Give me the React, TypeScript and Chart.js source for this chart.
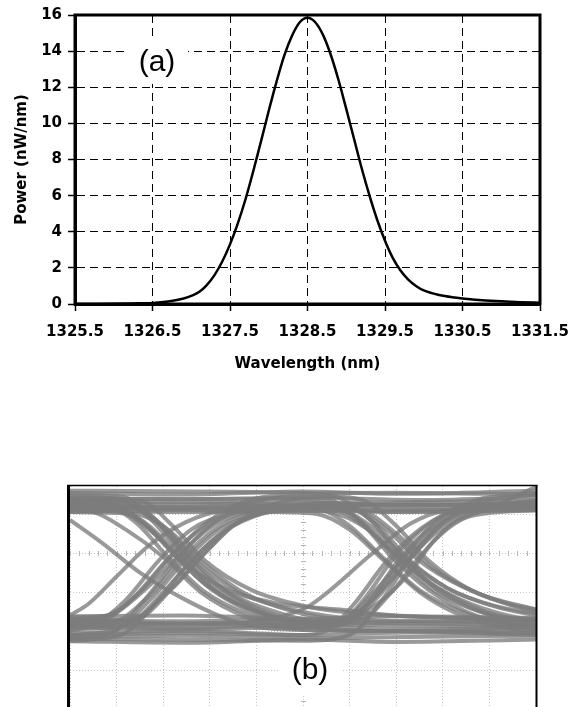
import React, { useEffect, useRef } from "react";
import { Chart, registerables } from "chart.js";
Chart.register(...registerables);

// ---------- Panel (a): spectrum ----------
const wavelengths = [
  1325.5, 1325.75, 1326.0, 1326.25, 1326.5, 1326.7, 1326.9, 1327.0, 1327.1, 1327.2,
  1327.3, 1327.4, 1327.5, 1327.6, 1327.7, 1327.8, 1327.9, 1328.0, 1328.1, 1328.2,
  1328.3, 1328.4, 1328.5, 1328.6, 1328.7, 1328.8, 1328.9, 1329.0, 1329.1, 1329.2,
  1329.3, 1329.4, 1329.5, 1329.6, 1329.7, 1329.8, 1329.9, 1330.0, 1330.2, 1330.4,
  1330.6, 1330.8, 1331.0, 1331.25, 1331.5,
];
const power = [
  0.0, 0.0, 0.01, 0.03, 0.06, 0.14, 0.3, 0.45, 0.66, 1.05,
  1.6, 2.35, 3.3, 4.45, 5.8, 7.35, 9.0, 10.7, 12.3, 13.75,
  14.85, 15.6, 15.85, 15.6, 14.9, 13.8, 12.4, 10.8, 9.15, 7.5,
  6.0, 4.65, 3.5, 2.55, 1.85, 1.35, 1.0, 0.75, 0.5, 0.36,
  0.26, 0.2, 0.15, 0.1, 0.07,
];
const xTickValues = [1325.5, 1326.5, 1327.5, 1328.5, 1329.5, 1330.5, 1331.5];
const yTickValues = [0, 2, 4, 6, 8, 10, 12, 14, 16];

// ---------- Panel (b): eye diagram traces, [time div, level div] ----------
const tr01 = [[0, 1.3], [2.4, 1.25], [5, 1.3], [7.1, 1.22], [10, 1.3]];
const tr02 = [[0, 1.1], [2.5, 1.05], [5, 1.08], [7.2, 1.06], [10, 1.12]];
const tr03 = [[0, 1.4], [2.2, 1.38], [5, 1.42], [7.5, 1.36], [10, 1.44]];
const tr04 = [[0, -1.62], [2.4, -1.6], [5, -1.68], [7.1, -1.62], [10, -1.66]];
const tr05 = [[0, -2.05], [2.6, -2.0], [5, -2.1], [7.3, -2.04], [10, -2.1]];
const tr06 = [[0, -2.26], [2.5, -2.3], [5, -2.22], [7, -2.28], [10, -2.22]];
const tr07 = [[0, -1.88], [2.4, -1.92], [5, -1.85], [7.1, -1.95], [10, -1.9]];
const tr08 = [[0, 1.2], [0.9, 1.15], [1.6, 0.75], [2.3, -0.1], [3.0, -0.9], [3.9, -1.5], [5.0, -1.8], [7, -1.85], [10, -1.9]];
const tr09 = [[0, 1.1], [0.5, 1.05], [1.2, 0.6], [2.0, -0.1], [2.8, -1.0], [3.8, -1.65], [4.8, -1.95], [7, -2.0], [10, -2.05]];
const tr10 = [[0, 1.25], [1.3, 1.2], [2.0, 0.7], [2.7, -0.2], [3.6, -1.0], [4.6, -1.4], [5.8, -1.65], [7.5, -1.75], [10, -1.7]];
const tr11 = [[0, 1.15], [1.1, 1.05], [1.8, 0.5], [2.5, -0.3], [3.4, -0.95], [4.5, -1.3], [5.8, -1.45], [7, -1.6], [10, -1.7]];
const tr12 = [[0, 1.2], [1.0, 1.15], [1.7, 0.7], [2.4, -0.15], [3.2, -0.95], [4.2, -1.55], [5.3, -1.8], [6.0, -1.6], [6.6, -0.9], [7.2, -0.1], [7.9, 0.7], [8.6, 1.1], [10, 1.2]];
const tr13 = [[0, 1.3], [0.7, 1.25], [1.4, 0.8], [2.1, -0.1], [2.9, -1.0], [3.9, -1.6], [5.0, -1.9], [5.7, -1.85], [6.3, -1.2], [6.9, -0.2], [7.6, 0.65], [8.3, 1.1], [10, 1.3]];
const tr14 = [[0, 1.05], [1.4, 1.0], [2.1, 0.6], [2.8, -0.2], [3.7, -1.0], [4.8, -1.5], [5.9, -1.7], [6.6, -1.3], [7.3, -0.5], [7.8, 0.3], [8.6, 0.95], [10, 1.1]];
const tr15 = [[0, -1.9], [0.9, -1.8], [1.7, -1.1], [2.4, -0.15], [3.1, 0.6], [3.9, 1.05], [4.8, 1.2], [7, 1.25], [10, 1.2]];
const tr16 = [[0, -2.0], [0.5, -1.85], [1.2, -1.2], [1.9, -0.2], [2.6, 0.6], [3.4, 1.0], [4.3, 1.15], [7, 1.1], [10, 1.15]];
const tr17 = [[0, -1.75], [1.3, -1.7], [2.1, -1.0], [2.8, -0.1], [3.5, 0.7], [4.3, 1.1], [5.0, 1.25], [7, 1.3], [10, 1.35]];
const tr18 = [[0, -2.1], [1.0, -1.95], [1.8, -1.1], [2.5, -0.15], [3.2, 0.6], [4.0, 1.0], [5.0, 1.1], [5.6, 1.05], [6.4, 0.6], [7.1, -0.15], [7.9, -0.9], [8.9, -1.5], [10, -1.8]];
const tr19 = [[0, -1.85], [0.7, -1.75], [1.4, -1.1], [2.1, -0.15], [2.8, 0.6], [3.6, 1.05], [4.6, 1.2], [5.3, 1.15], [6.0, 0.7], [6.7, -0.1], [7.5, -0.95], [8.5, -1.55], [9.6, -1.85], [10, -1.9]];
const tr20 = [[0, -1.95], [1.2, -1.85], [2.0, -1.0], [2.6, -0.2], [3.4, 0.65], [4.2, 1.05], [5.2, 1.2], [6.0, 1.15], [6.8, 0.6], [7.5, -0.2], [8.4, -0.85], [9.4, -1.3], [10, -1.45]];
const tr21 = [[0, 1.2], [2.4, 1.15], [4.5, 1.2], [5.6, 1.15], [6.3, 0.7], [7.0, -0.1], [7.8, -0.95], [8.8, -1.5], [10, -1.75]];
const tr22 = [[0, 1.3], [2.4, 1.3], [4.8, 1.25], [5.9, 1.2], [6.6, 0.7], [7.3, -0.2], [8.1, -0.9], [9.1, -1.35], [10, -1.55]];
const tr23 = [[0, 1.05], [2.4, 1.1], [4.5, 1.05], [5.3, 1.0], [6.0, 0.6], [6.7, -0.15], [7.5, -1.0], [8.4, -1.6], [9.5, -1.95], [10, -2.0]];
const tr24 = [[0, -1.9], [2.4, -1.95], [5, -1.9], [5.8, -1.85], [6.5, -1.1], [7.1, -0.1], [7.8, 0.7], [8.5, 1.1], [10, 1.25]];
const tr25 = [[0, -2.1], [2.4, -2.05], [5, -2.1], [5.5, -2.0], [6.1, -1.3], [6.8, -0.2], [7.5, 0.6], [8.2, 1.05], [10, 1.2]];
const tr26 = [[0, -1.7], [2.4, -1.75], [5, -1.7], [6.2, -1.7], [6.9, -1.0], [7.5, -0.1], [8.2, 0.75], [9.0, 1.15], [10, 1.7]];
const tr27 = [[0, 1.35], [1.2, 1.3], [1.9, 0.75], [2.6, -0.15], [3.4, -1.0], [4.4, -1.5], [5.4, -1.75], [6.2, -1.5], [6.8, -0.8], [7.4, 0.0], [8.0, 0.75], [8.8, 1.15], [10, 1.35]];
const tr28 = [[0, -1.65], [0.8, -1.6], [1.6, -0.95], [2.3, -0.1], [3.0, 0.65], [3.8, 1.05], [4.8, 1.15], [5.8, 1.1], [6.5, 0.65], [7.2, -0.15], [8.1, -0.9], [9.2, -1.4], [10, -1.6]];
const tr29 = [[0, 0.85], [0.7, 0.25], [1.5, -0.5], [2.4, -1.15], [3.4, -1.7], [4.4, -1.95], [7, -2.0], [10, -2.05]];
const tr30 = [[0, -1.6], [0.4, -1.3], [1.0, -0.6], [1.7, 0.2], [2.5, 0.8], [3.3, 1.1], [5, 1.2], [10, 1.25]];
const tr31 = [[0, -1.85], [3.5, -1.8], [4.6, -1.6], [5.1, -1.38], [6.5, 0.0], [7.3, 0.75], [8.1, 1.1], [10, 1.2]];
const tr32 = [[0, 1.15], [5, 1.15], [6.2, 1.1], [7.0, 0.5], [7.8, -0.4], [8.8, -1.05], [10, -1.45]];
const tr33 = [[0, 1.35], [0.8, 1.3], [1.5, 0.85], [2.2, 0.0], [2.9, -0.8], [3.8, -1.4], [4.9, -1.75], [7, -1.8], [10, -1.85]];
const tr34 = [[0, -2.25], [1.1, -2.1], [1.9, -1.2], [2.6, -0.2], [3.3, 0.55], [4.1, 1.0], [5.0, 1.15], [7, 1.05], [10, 1.1]];
const tr35 = [[0, -2.2], [5.0, -2.25], [6.0, -2.1], [6.7, -1.2], [7.3, -0.15], [8.0, 0.65], [8.8, 1.1], [10, 1.3]];
const tr36 = [[0, 1.4], [4.5, 1.38], [5.5, 1.3], [6.2, 0.85], [6.9, 0.05], [7.7, -0.75], [8.6, -1.3], [9.6, -1.65], [10, -1.7]];
const tr37 = [[0, 1.55], [2.4, 1.5], [5, 1.58], [7.1, 1.52], [10, 1.6]];
const tr38 = [[0, 1.2], [2.5, 1.18], [5, 1.22], [7.3, 1.15], [10, 1.22]];
const tr39 = [[0, -1.75], [2.4, -1.8], [5, -1.78], [7.1, -1.75], [10, -1.8]];
const tr40 = [[0, -2.15], [2.5, -2.12], [5, -2.18], [7.2, -2.15], [10, -2.12]];
const tr41 = [[0, 1.5], [1.1, 1.45], [1.8, 0.9], [2.5, -0.1], [3.3, -0.95], [4.3, -1.55], [5.4, -1.85], [6.1, -1.7], [6.7, -1.0], [7.3, -0.1], [8.0, 0.8], [8.8, 1.3], [10, 1.5]];
const tr42 = [[0, -2.2], [0.9, -2.05], [1.6, -1.2], [2.3, -0.15], [3.0, 0.7], [3.8, 1.25], [4.8, 1.45], [5.5, 1.4], [6.2, 0.85], [6.9, -0.1], [7.7, -0.95], [8.7, -1.6], [10, -1.95]];
const tr43 = [[0, 1.45], [1.0, 1.4], [1.7, 0.9], [2.4, -0.05], [3.1, -0.95], [4.1, -1.55], [5.2, -1.9], [7, -2.0], [10, -1.95]];
const tr44 = [[0, -1.7], [0.8, -1.6], [1.5, -1.0], [2.2, -0.05], [2.9, 0.75], [3.7, 1.3], [4.7, 1.5], [7, 1.55], [10, 1.5]];
const tr45 = [[0, 1.6], [4.8, 1.55], [5.7, 1.45], [6.4, 0.9], [7.1, -0.05], [7.9, -0.95], [8.9, -1.55], [10, -1.85]];
const tr46 = [[0, -1.8], [5.0, -1.85], [5.9, -1.75], [6.6, -1.05], [7.2, -0.05], [7.9, 0.85], [8.7, 1.35], [10, 1.55]];
const tr47 = [[0, 1.4], [1.5, 1.35], [2.2, 0.7], [2.9, -0.2], [3.9, -0.95], [5.0, -1.35], [6.2, -1.55], [8, -1.65], [10, -1.7]];
const tr48 = [[0, -1.75], [1.4, -1.7], [2.2, -0.9], [2.9, 0.0], [3.6, 0.8], [4.5, 1.3], [5.6, 1.45], [6.3, 1.35], [7.0, 0.7], [7.7, -0.2], [8.6, -0.95], [9.5, -1.35], [10, -1.5]];

const eyeTraces = [
  tr01, tr02, tr03, tr04, tr05, tr06, tr07, tr08, tr09, tr10, tr11, tr12,
  tr13, tr14, tr15, tr16, tr17, tr18, tr19, tr20, tr21, tr22, tr23, tr24,
  tr25, tr26, tr27, tr28, tr29, tr30, tr31, tr32, tr33, tr34, tr35, tr36,
  tr37, tr38, tr39, tr40, tr41, tr42, tr43, tr44, tr45, tr46, tr47, tr48,
];

const LABEL_FONT = "DejaVu Sans";

function spectrumConfig(): any {
  const frame = {
    id: "frameA",
    beforeDatasetsDraw(chart: any) {
      const { ctx } = chart;
      ctx.save();
      ctx.fillStyle = "#fff";
      ctx.fillRect(128, 38, 60, 46);
      ctx.fillStyle = "#000";
      ctx.font = '30px "Liberation Sans"';
      ctx.textAlign = "center";
      ctx.textBaseline = "alphabetic";
      ctx.fillText("(a)", 157, 70.5);
      ctx.restore();
    },
    afterDraw(chart: any) {
      const { ctx, chartArea: a } = chart;
      ctx.save();
      ctx.strokeStyle = "#000";
      ctx.lineWidth = 3;
      ctx.setLineDash([]);
      ctx.strokeRect(a.left, a.top, a.right - a.left, a.bottom - a.top);
      ctx.restore();
    },
  };
  const tickFont = { family: LABEL_FONT, size: 15, weight: "bold" };
  return {
    type: "line",
    data: {
      datasets: [
        {
          data: wavelengths.map((w, i) => ({ x: w, y: power[i] })),
          borderColor: "#000",
          borderWidth: 2.5,
          pointRadius: 0,
          cubicInterpolationMode: "monotone",
          fill: false,
          clip: 0,
        },
      ],
    },
    options: {
      animation: false,
      responsive: false,
      events: [],
      layout: { padding: { top: 14, right: 42, left: 0, bottom: 0 } },
      plugins: { legend: { display: false }, tooltip: { enabled: false } },
      scales: {
        x: {
          type: "linear",
          min: 1325.5,
          max: 1331.5,
          afterBuildTicks: (s: any) => {
            s.ticks = xTickValues.map((v) => ({ value: v }));
          },
          afterFit: (s: any) => {
            s.height = 86;
          },
          ticks: {
            font: tickFont,
            color: "#000",
            padding: 12,
            maxRotation: 0,
            autoSkip: false,
            callback: (v: any) => Number(v).toFixed(1),
          },
          grid: { color: "#000", lineWidth: 1, tickLength: 7, tickColor: "#000", tickWidth: 1.5, tickBorderDash: [] },
          border: { display: true, color: "#000", width: 3, dash: [8, 5] },
          title: {
            display: true,
            text: "Wavelength (nm)",
            color: "#000",
            font: tickFont,
            padding: { top: 0, bottom: 17 },
          },
        },
        y: {
          type: "linear",
          min: 0,
          max: 16,
          afterBuildTicks: (s: any) => {
            s.ticks = yTickValues.map((v) => ({ value: v }));
          },
          afterFit: (s: any) => {
            s.width = 75;
          },
          ticks: { font: tickFont, color: "#000", padding: 6, callback: (v: any) => String(v) },
          grid: { color: "#000", lineWidth: 1, tickLength: 7, tickColor: "#000", tickWidth: 1.5, tickBorderDash: [] },
          border: { display: true, color: "#000", width: 3, dash: [8, 5] },
          title: {
            display: true,
            text: "Power (nW/nm)",
            color: "#000",
            font: tickFont,
            padding: { top: 13, bottom: 0 },
          },
        },
      },
    },
    plugins: [frame],
  };
}

function eyeConfig(): any {
  const deco = {
    id: "decoB",
    beforeDatasetsDraw(chart: any) {
      const { ctx, scales } = chart;
      const xs = scales.x;
      const ys = scales.y;
      ctx.save();
      ctx.strokeStyle = "#b4b4b4";
      ctx.lineWidth = 1;
      const y0 = Math.round(ys.getPixelForValue(0)) + 0.5;
      for (let d = 0; d <= 10.001; d += 0.2) {
        const px = Math.round(xs.getPixelForValue(d)) + 0.5;
        ctx.beginPath();
        ctx.moveTo(px, y0 - 2.5);
        ctx.lineTo(px, y0 + 2.5);
        ctx.stroke();
      }
      const x5 = Math.round(xs.getPixelForValue(5)) + 0.5;
      for (let v = -4; v <= 1.7; v += 0.2) {
        const py = Math.round(ys.getPixelForValue(v)) + 0.5;
        ctx.beginPath();
        ctx.moveTo(x5 - 2.5, py);
        ctx.lineTo(x5 + 2.5, py);
        ctx.stroke();
      }
      ctx.fillStyle = "#fff";
      ctx.fillRect(278, 172, 65, 52);
      ctx.fillStyle = "#000";
      ctx.font = '30px "Liberation Sans"';
      ctx.textAlign = "center";
      ctx.textBaseline = "alphabetic";
      ctx.fillText("(b)", 310, 208.5);
      ctx.restore();
    },
    afterDraw(chart: any) {
      const { ctx, chartArea: a } = chart;
      ctx.save();
      ctx.strokeStyle = "#000";
      ctx.lineWidth = 3;
      ctx.beginPath();
      ctx.moveTo(a.left - 1.5, a.top - 1);
      ctx.lineTo(a.left - 1.5, a.bottom + 2);
      ctx.stroke();
      ctx.lineWidth = 2;
      ctx.beginPath();
      ctx.moveTo(a.right + 0.5, a.top - 1);
      ctx.lineTo(a.right + 0.5, a.bottom + 2);
      ctx.stroke();
      ctx.lineWidth = 1.5;
      ctx.beginPath();
      ctx.moveTo(a.left - 3, a.top - 0.5);
      ctx.lineTo(a.right + 1.5, a.top - 0.5);
      ctx.stroke();
      ctx.restore();
    },
  };
  const hiddenAxis = (min: number, max: number, horizontal: boolean) => ({
    type: "linear",
    min,
    max,
    ticks: { display: false, stepSize: 1, includeBounds: false },
    grid: { color: "#c6c6c6", lineWidth: 1, drawTicks: false },
    border: { display: false, dash: [1, 2] },
    afterFit: (s: any) => {
      if (horizontal) s.height = 0;
      else s.width = 0;
    },
  });
  return {
    type: "line",
    data: {
      datasets: eyeTraces.map((t) => ({
        data: t.map(([x, y]) => ({ x, y })),
        borderColor: "rgba(124,124,124,0.78)",
        borderWidth: 4,
        pointRadius: 0,
        cubicInterpolationMode: "monotone",
        fill: false,
        clip: 0,
      })),
    },
    options: {
      animation: false,
      responsive: false,
      events: [],
      layout: { padding: { top: 16, right: 46, left: 70, bottom: 1 } },
      plugins: { legend: { display: false }, tooltip: { enabled: false } },
      scales: {
        x: hiddenAxis(0, 10, true),
        y: hiddenAxis(-4, 1.72, false),
      },
    },
    plugins: [deco],
  };
}

export default function App() {
  const topRef = useRef<HTMLCanvasElement>(null);
  const eyeRef = useRef<HTMLCanvasElement>(null);
  useEffect(() => {
    const c1 = new Chart(topRef.current as HTMLCanvasElement, spectrumConfig());
    const c2 = new Chart(eyeRef.current as HTMLCanvasElement, eyeConfig());
    return () => {
      c1.destroy();
      c2.destroy();
    };
  }, []);
  return (
    <div
      style={{
        position: "fixed",
        left: 0,
        top: 0,
        width: 582,
        height: 707,
        overflow: "hidden",
        background: "#fff",
      }}
    >
      <canvas
        ref={topRef}
        width={582}
        height={390}
        style={{ position: "absolute", left: 0, top: 0, width: 582, height: 390 }}
      />
      <canvas
        ref={eyeRef}
        width={582}
        height={240}
        style={{ position: "absolute", left: 0, top: 470, width: 582, height: 240 }}
      />
    </div>
  );
}
